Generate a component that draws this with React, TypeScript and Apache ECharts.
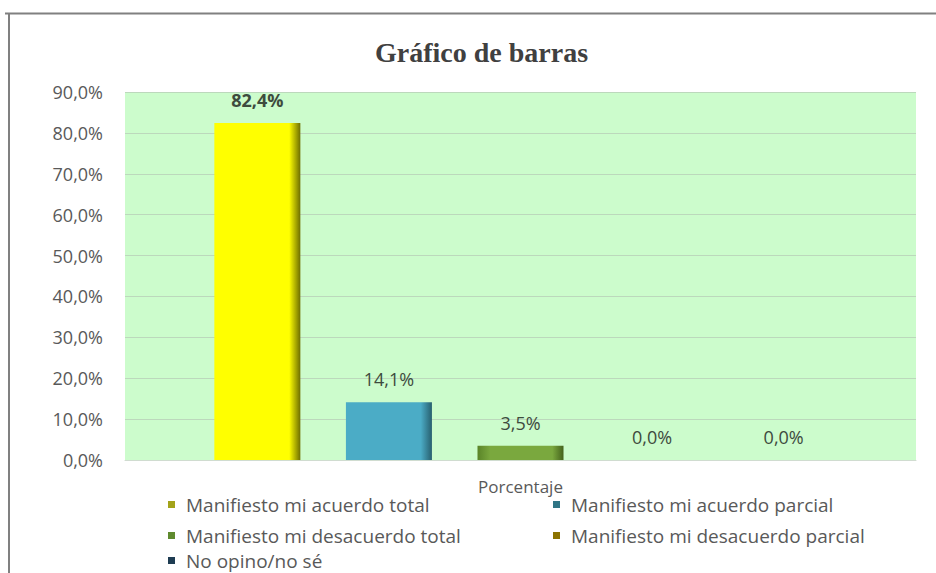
import React, { useEffect, useRef } from "react";
import * as echarts from "echarts";

const categories = ["Porcentaje"];
const seriesNames = [
  "Manifiesto mi acuerdo total",
  "Manifiesto mi acuerdo parcial",
  "Manifiesto mi desacuerdo total",
  "Manifiesto mi desacuerdo parcial",
  "No opino/no sé",
];
const values = [82.4, 14.1, 3.5, 0.0, 0.0];
const yTicks = { min: 0, max: 90, interval: 10 };

const barColors = [
  ["#ffff00", "#ffff00", "#6e6e00"],
  ["#4bacc6", "#4bacc6", "#275f6e"],
  ["#5a8428", "#7aa83e", "#44621c"],
  ["#a8860a", "#a8860a", "#5e4a00"],
  ["#245070", "#245070", "#12283a"],
];
const legendColors = ["#a3a31a", "#2f7585", "#5f8a2e", "#8c7300", "#1e3c52"];

const fmt = (v: number) => v.toFixed(1).replace(".", ",") + "%";

export default function App() {
  const ref = useRef<HTMLDivElement>(null);
  useEffect(() => {
    if (!ref.current) return;
    const chart = echarts.init(ref.current, undefined, { renderer: "svg" });
    const font = "'Open Sans', 'Liberation Sans', sans-serif";
    const series = seriesNames.map((name, i) => ({
      name,
      type: "bar",
      data: [values[i]],
      barWidth: 86,
      barGap: "53%",
      itemStyle: {
        color: new echarts.graphic.LinearGradient(0, 0, 1, 0, [
          { offset: 0, color: barColors[i][0] },
          { offset: 0.15, color: barColors[i][1] },
          { offset: 0.87, color: barColors[i][1] },
          { offset: 1, color: barColors[i][2] },
        ]),
      },
      label: {
        show: true,
        position: "top",
        distance: 14,
        formatter: (p: any) => fmt(p.value),
        color: "#3e4b3e",
        fontFamily: font,
        fontSize: 18,
        fontWeight: i === 0 ? "bold" : "normal",
      },
    }));
    const legendPos: [number, number][] = [
      [163, 490],
      [548, 490],
      [163, 521],
      [548, 521],
      [163, 546],
    ];
    const legends = seriesNames.map((name, i) => ({
      orient: "horizontal",
      icon: "rect",
      itemWidth: 7,
      itemHeight: 7,
      selectedMode: false,
      left: legendPos[i][0],
      top: legendPos[i][1],
      data: [{ name, itemStyle: { color: legendColors[i] } }],
      textStyle: {
        color: "#595959",
        fontFamily: font,
        fontSize: 19,
        padding: [0, 0, 0, 6],
      },
    }));
    chart.setOption({
      animation: false,
      backgroundColor: "#ffffff",
      title: {
        text: "Gráfico de barras",
        left: 370,
        top: 33,
        textStyle: {
          fontFamily: "'Liberation Serif', serif",
          fontWeight: "bold",
          fontSize: 28,
          color: "#404040",
        },
      },
      graphic: [
        {
          type: "line",
          shape: { x1: 5, y1: 13.5, x2: 936, y2: 13.5 },
          style: { stroke: "#808080", lineWidth: 2 },
        },
        {
          type: "line",
          shape: { x1: 9, y1: 13, x2: 9, y2: 573 },
          style: { stroke: "#808080", lineWidth: 2 },
        },
      ],
      legend: legends,
      grid: {
        left: 125,
        right: 20,
        top: 92,
        bottom: 113,
        show: true,
        backgroundColor: "#ccfccc",
        borderWidth: 0,
      },
      xAxis: {
        type: "category",
        data: categories,
        axisLine: { show: true, lineStyle: { color: "#d0dcd0", width: 1 } },
        axisTick: { show: false },
        axisLabel: {
          color: "#595959",
          fontFamily: font,
          fontSize: 17,
          margin: 18,
        },
      },
      yAxis: {
        type: "value",
        min: yTicks.min,
        max: yTicks.max,
        interval: yTicks.interval,
        axisLine: { show: false },
        axisTick: { show: false },
        splitLine: { lineStyle: { color: "#bcd8bc", width: 1 } },
        axisLabel: {
          formatter: (v: number) => fmt(v),
          color: "#595959",
          fontFamily: font,
          fontSize: 18,
          margin: 22,
        },
      },
      series,
    });
    return () => chart.dispose();
  }, []);
  return (
    <div
      ref={ref}
      style={{ position: "fixed", left: 0, top: 0, width: 936, height: 573 }}
    />
  );
}
